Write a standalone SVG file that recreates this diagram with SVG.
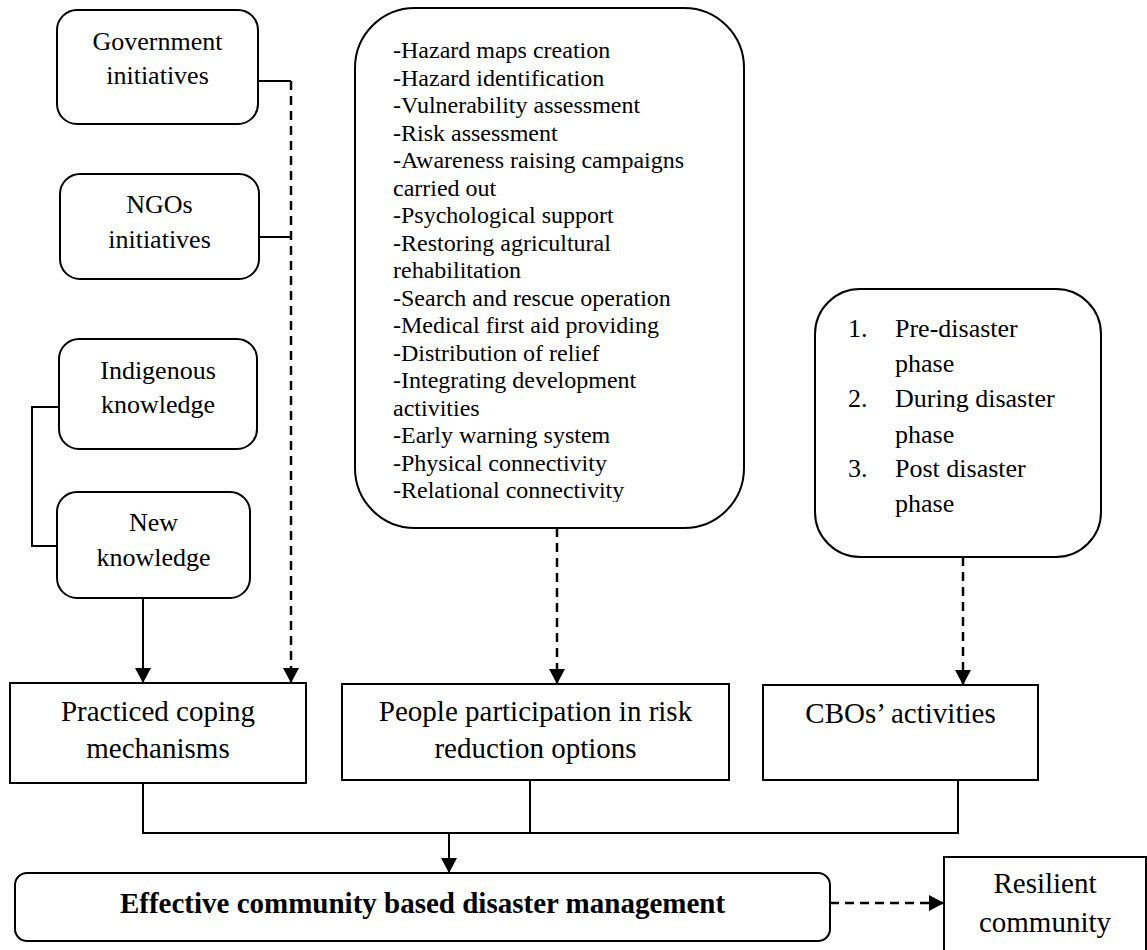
<svg xmlns="http://www.w3.org/2000/svg" width="1147" height="950" viewBox="0 0 1147 950">
<style>
.box{fill:#fff;stroke:#000;stroke-width:2}
.t{font-family:"Liberation Serif","Times New Roman",serif;fill:#000;text-anchor:middle}
.s26{font-size:26px}
.s29{font-size:29px}
.s24{font-size:24px}
.ln{fill:none;stroke:#000;stroke-width:2}
.dash{fill:none;stroke:#000;stroke-width:2.5;stroke-dasharray:9,6}
</style>
<defs>
<marker id="ah" markerUnits="userSpaceOnUse" markerWidth="16" markerHeight="16" viewBox="0 0 16 16" refX="15" refY="8" orient="auto">
<path d="M0,0 L15,8 L0,16 Z" fill="#000"/>
</marker>
<clipPath id="listclip"><rect x="355" y="8" width="389" height="494"/></clipPath>
</defs>
<rect width="1147" height="950" fill="#fff"/>

<g id="connectors">
<path class="ln" d="M258,81 H291"/>
<path class="ln" d="M259,237 H291"/>
<path class="dash" d="M291,81 V683" marker-end="url(#ah)"/>
<path class="ln" d="M59,407 H32 V546 H57"/>
<path class="ln" d="M143,598 V683" marker-end="url(#ah)"/>
<path class="dash" d="M557,528 V684" marker-end="url(#ah)"/>
<path class="dash" d="M963,557 V685" marker-end="url(#ah)"/>
<path class="ln" d="M143,783 V833 H958 V780"/>
<path class="ln" d="M530,780 V833"/>
<path class="ln" d="M449,833 V873" marker-end="url(#ah)"/>
<path class="dash" d="M830,903 H944" marker-end="url(#ah)"/>
</g>

<g id="gov">
<rect class="box" x="57" y="10" width="201" height="114" rx="20"/>
<text class="t s26" x="157.5" y="50">Government</text>
<text class="t s26" x="157.5" y="84">initiatives</text>
</g>
<g id="ngo">
<rect class="box" x="60" y="174" width="199" height="105" rx="20"/>
<text class="t s26" x="159.5" y="213">NGOs</text>
<text class="t s26" x="159.5" y="248">initiatives</text>
</g>
<g id="indigenous">
<rect class="box" x="59" y="339" width="198" height="110" rx="20"/>
<text class="t s26" x="158" y="379">Indigenous</text>
<text class="t s26" x="158" y="413">knowledge</text>
</g>
<g id="newknowledge">
<rect class="box" x="57" y="492" width="193" height="106" rx="20"/>
<text class="t s26" x="153.5" y="531">New</text>
<text class="t s26" x="153.5" y="566">knowledge</text>
</g>

<g id="activities">
<rect class="box" x="355" y="8" width="389" height="520" rx="60"/>
<g clip-path="url(#listclip)">
<text class="t s24" style="text-anchor:start" x="393" y="58">
<tspan x="393" y="58">-Hazard maps creation</tspan>
<tspan x="393" y="85.5">-Hazard identification</tspan>
<tspan x="393" y="113">-Vulnerability assessment</tspan>
<tspan x="393" y="140.5">-Risk assessment</tspan>
<tspan x="393" y="168">-Awareness raising campaigns</tspan>
<tspan x="393" y="195.5">carried out</tspan>
<tspan x="393" y="223">-Psychological support</tspan>
<tspan x="393" y="250.5">-Restoring agricultural</tspan>
<tspan x="393" y="278">rehabilitation</tspan>
<tspan x="393" y="305.5">-Search and rescue operation</tspan>
<tspan x="393" y="333">-Medical first aid providing</tspan>
<tspan x="393" y="360.5">-Distribution of relief</tspan>
<tspan x="393" y="388">-Integrating development</tspan>
<tspan x="393" y="415.5">activities</tspan>
<tspan x="393" y="443">-Early warning system</tspan>
<tspan x="393" y="470.5">-Physical connectivity</tspan>
<tspan x="393" y="498">-Relational connectivity</tspan>
</text>
</g>
</g>

<g id="phases">
<rect class="box" x="815" y="289" width="286" height="268" rx="45"/>
<g class="t s26" style="text-anchor:start">
<text x="848" y="337">1.</text>
<text x="895" y="337">Pre-disaster</text>
<text x="895" y="372">phase</text>
<text x="848" y="407">2.</text>
<text x="895" y="407">During disaster</text>
<text x="895" y="443">phase</text>
<text x="848" y="477">3.</text>
<text x="895" y="477">Post disaster</text>
<text x="895" y="512">phase</text>
</g>
</g>

<g id="coping">
<rect class="box" x="10" y="683" width="296" height="100"/>
<text class="t s29" x="158" y="721">Practiced coping</text>
<text class="t s29" x="158" y="758">mechanisms</text>
</g>
<g id="participation">
<rect class="box" x="342" y="684" width="387" height="96"/>
<text class="t s29" x="535.5" y="721">People participation in risk</text>
<text class="t s29" x="535.5" y="758">reduction options</text>
</g>
<g id="cbos">
<rect class="box" x="763" y="685" width="275" height="95"/>
<text class="t s29" x="900.5" y="723">CBOs’ activities</text>
</g>
<g id="effective">
<rect class="box" x="15" y="873" width="815" height="68" rx="12"/>
<text class="t s29" x="422.5" y="913" font-weight="bold">Effective community based disaster management</text>
</g>
<g id="resilient">
<rect class="box" x="944" y="857" width="202" height="96"/>
<text class="t s29" x="1045" y="893">Resilient</text>
<text class="t s29" x="1045" y="932">community</text>
</g>
</svg>
